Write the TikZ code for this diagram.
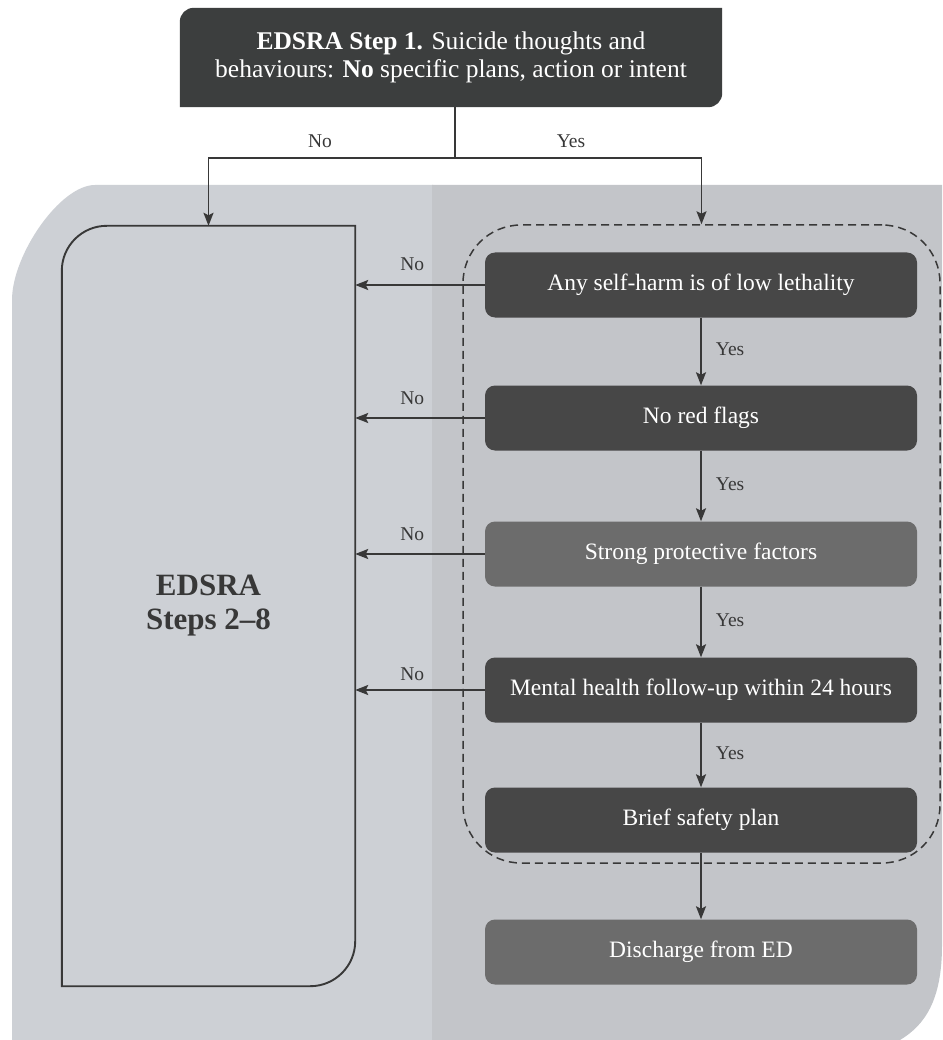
\documentclass[tikz,border=0pt]{standalone}
\usepackage{fontspec}
\setmainfont{Liberation Serif}
\usetikzlibrary{arrows.meta,backgrounds}
\definecolor{bgL}{HTML}{CDD0D5}
\definecolor{bgR}{HTML}{C3C5C9}
\definecolor{boxD}{HTML}{474747}
\definecolor{boxM}{HTML}{6C6C6C}
\definecolor{topC}{HTML}{3C3E3E}
\definecolor{lineC}{HTML}{383838}
\begin{document}
\begin{tikzpicture}[x=1pt,y=-1pt,
  conn/.style={draw=lineC, line width=1.9pt},
  arr/.style={conn, -{Stealth[length=13pt,width=10pt,inset=2.5pt]}},
  stepbox/.style={fill=boxD, rounded corners=10pt, minimum width=432pt, minimum height=65pt, inner sep=0pt, text=white, font=\fontsize{23.5}{28}\selectfont},
  midbox/.style={stepbox, fill=boxM},
  lab/.style={text=lineC, font=\fontsize{19.5}{22}\selectfont, inner sep=2pt}]
\useasboundingbox (0,0) rectangle (942,1040);
\begin{scope}[on background layer]
  \fill[white] (0,0) rectangle (942,1040);
  \fill[bgL] (12,300) .. controls (12,255) and (60,185) .. (95,185) -- (433,185) -- (433,1040) -- (12,1040) -- cycle;
  \fill[bgR] (432,185) -- (942,185) -- (942,945) .. controls (942,1000) and (925,1025) .. (900,1040) -- (432,1040) -- cycle;
\end{scope}

% top decision box
\node[minimum width=542pt, minimum height=99pt, inner sep=0pt, text=white, align=center,
      font=\fontsize{25.5}{28}\selectfont] (top) at (451,57.5)
  {\textbf{EDSRA Step 1.} Suicide thoughts and\\behaviours: \textbf{No} specific plans, action or intent};
\begin{scope}[on background layer]
  \fill[topC] (top.south west) -- ([yshift=-14pt]top.north west) arc[start angle=180,end angle=90,radius=14pt]
    -- (top.north east) -- ([yshift=14pt]top.south east) arc[start angle=0,end angle=-90,radius=14pt] -- cycle;
\end{scope}

% left box
\node[minimum width=293pt, minimum height=760pt, inner sep=0pt, align=center, text=lineC,
      font=\bfseries\fontsize{31}{34}\selectfont] (steps) at (208.5,606) {EDSRA\\Steps 2--8};
\draw[conn] (steps.south west) -- ([yshift=-45pt]steps.north west) arc[start angle=180,end angle=90,radius=45pt]
  -- (steps.north east) -- ([yshift=45pt]steps.south east) arc[start angle=0,end angle=-90,radius=45pt] -- cycle;

% dashed group
\node[draw=lineC, line width=1.5pt, dash pattern=on 8pt off 5pt, rounded corners=58pt,
      minimum width=477pt, minimum height=638pt, inner sep=0pt] (grp) at (701.5,544) {};

% right boxes
\node[stepbox] (b1) at (701,285) {Any self-harm is of low lethality};
\node[stepbox] (b2) at (701,418) {No red flags};
\node[midbox]  (b3) at (701,554) {Strong protective factors};
\node[stepbox] (b4) at (701,690) {Mental health follow-up within 24 hours};
\node[stepbox] (b5) at (701,820) {Brief safety plan};
\node[midbox]  (b6) at (701,952) {Discharge from ED};

% top split
\coordinate (jn) at (455,158);
\draw[conn] (top.south -| jn) -- (jn);
\draw[arr] (jn) -| (steps.north);
\draw[arr] (jn) -| (grp.north);
\node[lab] (lno) at (320,141) {No};
\node[lab] (lyes) at (571,141) {Yes};

% yes arrows
\draw[arr] (b1.south) -- (b2.north) node[lab, midway, anchor=west, xshift=12pt, yshift=2pt] {Yes};
\draw[arr] (b2.south) -- (b3.north) node[lab, midway, anchor=west, xshift=12pt, yshift=2pt] {Yes};
\draw[arr] (b3.south) -- (b4.north) node[lab, midway, anchor=west, xshift=12pt, yshift=2pt] {Yes};
\draw[arr] (b4.south) -- (b5.north) node[lab, midway, anchor=west, xshift=12pt, yshift=2pt] {Yes};
\draw[arr] (b5.south) -- (b6.north);

% no arrows
\draw[arr] (b1.west) -- (b1.west -| steps.east) node[lab, pos=0.56, yshift=21pt] {No};
\draw[arr] (b2.west) -- (b2.west -| steps.east) node[lab, pos=0.56, yshift=20pt] {No};
\draw[arr] (b3.west) -- (b3.west -| steps.east) node[lab, pos=0.56, yshift=20pt] {No};
\draw[arr] (b4.west) -- (b4.west -| steps.east) node[lab, pos=0.56, yshift=16pt] {No};
\end{tikzpicture}
\end{document}
